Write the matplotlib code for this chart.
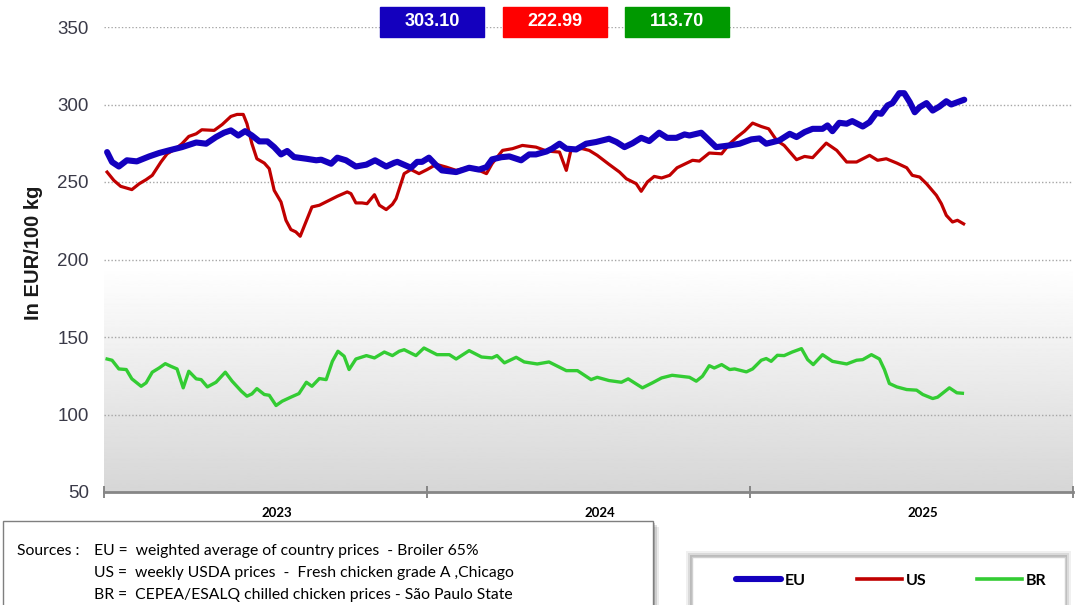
import numpy as np
import pandas as pd
import matplotlib
matplotlib.use("Agg")
import matplotlib.pyplot as plt
from matplotlib.patches import Rectangle
from matplotlib.lines import Line2D

# weekly chicken prices, EUR/100 kg, x = weeks since 1 Jan 2023
START = pd.Timestamp("2023-01-01")

eu_weeks = [0.5, 1.3, 2.4, 3.7, 5.3, 7.3, 8.9, 10.5, 12.6, 14.9, 16.5, 18.1, 19.4, 20.5, 21.7,
            22.8, 23.9, 25.1, 26.4, 27.5, 28.6, 29.6, 30.7, 32.7, 34.3, 35.1, 36.7, 37.7, 39.1,
            40.7, 42.4, 43.8, 45.6, 46.9, 47.4, 49.6, 50.6, 51.4, 52.5, 53.7, 54.6, 56.9, 59.0,
            60.6, 61.8, 62.7, 64.2, 65.5, 67.4, 68.7, 69.8, 71.5, 72.4, 73.6, 74.7, 76.3, 77.9,
            79.5, 81.6, 82.8, 84.1, 85.4, 86.8, 88.1, 89.7, 91.0, 92.5, 93.8, 94.6, 96.5, 97.8,
            98.9, 101.1, 102.7, 104.6, 105.9, 107.0, 109.1, 110.8, 111.9, 113.2, 114.5, 116.1,
            116.9, 117.7, 118.8, 120.0, 120.9, 122.6, 123.7, 124.8, 125.6, 126.6, 127.4, 128.5,
            129.3, 130.2, 131.0, 131.8, 132.9, 133.9, 135.0, 136.1, 136.9, 137.9, 139.0]
eu_price = [269.3, 262.9, 260.0, 264.0, 263.3, 266.5, 268.7, 270.4, 272.5, 275.5, 274.7, 279.0,
            281.8, 283.3, 280.0, 282.8, 280.0, 276.2, 276.2, 272.5, 267.8, 270.0, 266.1, 265.0,
            264.0, 264.4, 261.8, 265.7, 264.0, 260.0, 261.2, 264.0, 260.0, 262.4, 263.0, 259.2,
            263.0, 263.0, 265.7, 260.7, 257.5, 256.4, 259.2, 258.0, 259.6, 264.6, 266.0, 266.5,
            264.0, 267.8, 267.8, 269.7, 271.5, 274.7, 271.5, 271.0, 274.7, 275.8, 277.9, 275.8,
            272.5, 275.0, 278.5, 276.4, 281.8, 278.5, 278.5, 280.7, 280.0, 281.8, 276.8, 272.5,
            273.6, 274.7, 277.5, 278.1, 274.7, 276.8, 281.1, 279.0, 282.2, 284.3, 284.3, 286.5,
            282.8, 288.2, 287.6, 289.3, 285.8, 288.6, 294.6, 294.0, 299.4, 300.9, 307.3, 307.3,
            301.5, 295.0, 298.3, 300.9, 296.1, 298.7, 302.1, 300.0, 301.5, 303.10]

us_weeks = [0.5, 1.6, 2.7, 4.5, 5.7, 6.8, 7.8, 9.2, 10.2, 11.6, 12.6, 13.7, 14.9, 15.8, 17.8,
            19.1, 20.5, 21.5, 22.5, 23.1, 23.9, 24.7, 25.9, 26.7, 27.5, 28.6, 29.4, 30.2, 31.0,
            31.7, 32.3, 33.6, 34.8, 36.4, 37.7, 39.3, 39.9, 40.7, 41.7, 42.5, 43.7, 44.5, 45.6,
            46.6, 47.2, 48.5, 49.6, 50.9, 52.2, 53.7, 55.3, 56.9, 58.5, 60.6, 61.8, 62.7, 64.4,
            66.0, 67.6, 69.8, 71.5, 73.6, 74.7, 75.5, 77.3, 78.4, 79.7, 81.6, 83.3, 84.4, 86.0,
            86.8, 87.8, 88.9, 90.1, 91.4, 92.6, 95.1, 96.2, 97.8, 99.8, 101.1, 102.3, 103.5,
            104.8, 106.2, 107.4, 108.7, 109.9, 111.9, 113.2, 114.5, 116.7, 118.4, 120.0, 121.6,
            123.7, 125.0, 126.4, 128.1, 129.7, 130.6, 131.8, 132.9, 134.5, 135.3, 136.1, 137.1,
            137.9, 138.9]
us_price = [256.4, 251.0, 247.2, 245.1, 248.9, 251.5, 254.3, 262.9, 268.2, 271.5, 274.7, 279.4,
            281.1, 283.7, 283.3, 287.1, 292.3, 293.6, 293.6, 287.6, 274.7, 265.0, 262.2, 258.6,
            244.6, 237.1, 225.3, 219.3, 217.8, 215.0, 221.0, 233.9, 235.0, 238.2, 240.8, 243.6,
            242.5, 236.5, 236.5, 236.0, 241.8, 235.0, 232.2, 235.6, 239.3, 255.4, 258.0, 255.4,
            258.0, 261.4, 259.6, 257.5, 259.0, 257.5, 255.4, 261.8, 270.4, 271.5, 273.6, 272.5,
            270.0, 269.3, 257.5, 271.5, 271.5, 270.4, 267.2, 261.4, 256.4, 252.1, 248.9, 244.0,
            250.0, 253.6, 252.6, 254.3, 259.2, 264.0, 263.5, 268.7, 268.2, 274.7, 279.0, 282.8,
            288.0, 285.8, 284.3, 276.8, 273.6, 264.4, 266.5, 265.7, 275.1, 270.4, 262.9, 262.9,
            267.2, 264.0, 265.0, 262.2, 259.2, 254.3, 253.2, 248.9, 241.4, 236.0, 228.5, 224.2,
            225.3, 222.99]

br_weeks = [0.5, 1.3, 2.4, 3.6, 4.5, 6.0, 6.8, 7.8, 8.9, 9.9, 10.8, 11.8, 12.8, 13.7, 14.9,
            15.7, 16.7, 18.1, 19.6, 20.7, 22.2, 23.1, 23.9, 24.7, 25.9, 26.7, 27.8, 28.8, 30.2,
            31.5, 32.7, 33.6, 34.8, 35.9, 36.9, 37.8, 38.8, 39.6, 40.7, 42.4, 43.7, 45.3, 46.6,
            47.7, 48.5, 50.4, 51.7, 53.8, 55.8, 56.9, 59.0, 61.0, 62.7, 63.5, 64.7, 66.6, 67.9,
            70.0, 71.9, 74.7, 76.5, 78.7, 79.7, 81.6, 83.6, 84.7, 86.0, 87.0, 88.6, 90.1, 91.8,
            94.6, 95.7, 96.7, 97.8, 98.6, 99.8, 101.1, 101.9, 103.8, 104.8, 106.2, 107.0, 107.8,
            108.8, 109.9, 111.2, 112.7, 113.7, 114.6, 116.1, 117.7, 120.0, 121.6, 122.6, 124.0,
            125.3, 126.1, 126.9, 128.1, 129.7, 131.3, 132.3, 133.9, 134.7, 136.6, 137.8, 138.7]
br_price = [135.8, 135.0, 129.4, 129.0, 123.0, 118.2, 120.4, 127.3, 130.0, 132.8, 131.1, 129.4,
            117.2, 127.9, 123.0, 122.5, 117.8, 120.8, 127.3, 121.5, 115.0, 111.8, 113.3, 116.7,
            112.9, 112.4, 105.8, 108.6, 111.2, 113.5, 120.8, 118.2, 123.2, 122.5, 134.3, 140.8,
            137.6, 129.0, 135.8, 138.0, 136.5, 140.3, 138.0, 140.8, 141.8, 138.0, 142.9, 138.6,
            138.6, 135.8, 141.2, 137.1, 136.5, 138.0, 133.3, 136.9, 133.9, 132.6, 133.9, 128.3,
            128.3, 122.5, 124.0, 121.9, 120.8, 123.0, 119.7, 117.2, 120.4, 123.6, 125.3, 124.0,
            121.5, 124.7, 131.5, 130.0, 132.2, 129.0, 129.4, 127.5, 129.4, 135.0, 136.1, 134.3,
            138.2, 138.0, 140.3, 142.5, 135.4, 132.2, 138.6, 134.3, 132.6, 135.0, 135.4, 138.6,
            135.8, 129.0, 120.0, 117.8, 116.1, 115.7, 112.9, 110.3, 111.2, 117.2, 114.0, 113.70]

series_names = ["EU", "US", "BR"]
line_colors = ["#1400BE", "#C00000", "#33CC33"]
box_colors = ["#1400BE", "#FF0000", "#009900"]
years = [2023, 2024, 2025]
source_lines = ["EU =  weighted average of country prices  - Broiler 65%",
                "US =  weekly USDA prices  -  Fresh chicken grade A ,Chicago",
                "BR =  CEPEA/ESALQ chilled chicken prices - São Paulo State"]


def to_dates(weeks):
    return START + pd.to_timedelta(np.asarray(weeks) * 7, unit="D")


W, H = 1077, 605
fig = plt.figure(figsize=(W / 100, H / 100), dpi=100)
ax = fig.add_axes([104 / W, 1 - 492 / H, (1073 - 104) / W, 465 / H])

# grey gradient in the lower half of the plot area
grad = np.linspace(0.84, 0.998, 256).reshape(-1, 1)
ax.imshow(grad, cmap="gray", vmin=0, vmax=1, origin="lower", aspect="auto",
          extent=[0, 1, 0, 0.48], transform=ax.transAxes, zorder=0)

ax.plot(to_dates(br_weeks), br_price, color=line_colors[2], lw=2.4, zorder=3)
ax.plot(to_dates(us_weeks), us_price, color=line_colors[1], lw=2.3, zorder=4)
ax.plot(to_dates(eu_weeks), eu_price, color=line_colors[0], lw=4.4, zorder=5,
        solid_capstyle="round")

ax.set_xlim(pd.Timestamp("2023-01-01"), pd.Timestamp("2026-01-01"))
ax.set_ylim(50, 350)
ax.set_yticks([50, 100, 150, 200, 250, 300, 350])
for v in [100, 150, 200, 250, 300, 350]:
    ax.axhline(v, color="#a6a6a6", lw=1.0, ls=(0, (1, 1.5)), zorder=1)

ax.set_xticks([pd.Timestamp(f"{y}-01-01") for y in [2023, 2024, 2025, 2026]])
ax.set_xticklabels([])
ax.tick_params(axis="x", direction="inout", length=9, width=1.3, color="#7f7f7f")
ax.tick_params(axis="y", length=0, pad=11, labelsize=13.5, labelcolor="#3a3a48")
for lab in ax.get_yticklabels():
    lab.set_family("Liberation Sans")
for s in ["top", "right", "left"]:
    ax.spines[s].set_visible(False)
ax.spines["bottom"].set_color("#868686")
ax.spines["bottom"].set_linewidth(2)
ax.set_ylabel("In EUR/100 kg", fontsize=14.5, fontweight="bold", family="Liberation Sans",
              color="#1a1a1a")
ax.yaxis.set_label_coords(-0.063, 0.514)

for y in years:
    ax.text(pd.Timestamp(f"{y}-07-15"), -0.045, str(y), transform=ax.get_xaxis_transform(),
            ha="center", va="center", fontsize=9.5, fontweight="bold", family="Lato")

# latest-value boxes at the top
last_vals = [eu_price[-1], us_price[-1], br_price[-1]]
box_left = [380, 503, 625]
for x0, val, c in zip(box_left, last_vals, box_colors):
    fig.add_artist(Rectangle((x0 / W, 1 - 37 / H), 104 / W, 30 / H,
                             transform=fig.transFigure, color=c, zorder=10))
    fig.text((x0 + 52) / W, 1 - 22 / H, f"{val:.2f}", ha="center", va="center",
             color="white", fontsize=13, fontweight="bold", family="Liberation Sans", zorder=11)

# sources box
for off, a in [(6, 0.08), (4, 0.12), (2, 0.18)]:
    fig.add_artist(Rectangle((3 / W, -0.05), (650 + off) / W, (H - 521 + 30 - off) / H,
                             transform=fig.transFigure, facecolor="#000000", alpha=a,
                             edgecolor="none", zorder=8))
fig.add_artist(Rectangle((3 / W, -0.05), 650 / W, (H - 521) / H + 0.05, transform=fig.transFigure,
                         facecolor="white", edgecolor="#7f7f7f", lw=1, zorder=9))
fig.text(17 / W, 1 - 551 / H, "Sources :", ha="left", va="center", fontsize=11.3,
         family="Lato", zorder=10)
for i, line in enumerate(source_lines):
    fig.text(94 / W, 1 - (551 + 22 * i) / H, line, ha="left", va="center", fontsize=11.3,
             family="Lato", zorder=10)

# legend box
for off, a in [(6, 0.06), (4, 0.09), (2, 0.14)]:
    fig.add_artist(Rectangle(((692 - off) / W, -0.05), (373 + 2 * off) / W,
                             (H - 557 + off) / H + 0.05, transform=fig.transFigure,
                             facecolor="#000000", alpha=a, edgecolor="none", zorder=8))
fig.add_artist(Rectangle((692 / W, -0.05), 373 / W, (H - 557) / H + 0.05, transform=fig.transFigure,
                         facecolor="white", edgecolor="#d0d0d0", lw=1, zorder=9))
handles = [Line2D([], [], color=line_colors[0], lw=4.4, solid_capstyle="round"),
           Line2D([], [], color=line_colors[1], lw=2.6),
           Line2D([], [], color=line_colors[2], lw=2.6)]
leg = fig.legend(handles, series_names, loc="center left", bbox_to_anchor=(736 / W, 1 - 581 / H),
                 bbox_transform=fig.transFigure, ncol=3, frameon=False, borderpad=0,
                 borderaxespad=0, handlelength=2.8, handletextpad=0.25, columnspacing=3.2,
                 prop={"family": "Lato", "weight": "bold", "size": 11.5})
leg.set_zorder(12)

fig.savefig("out.png", dpi=100)
